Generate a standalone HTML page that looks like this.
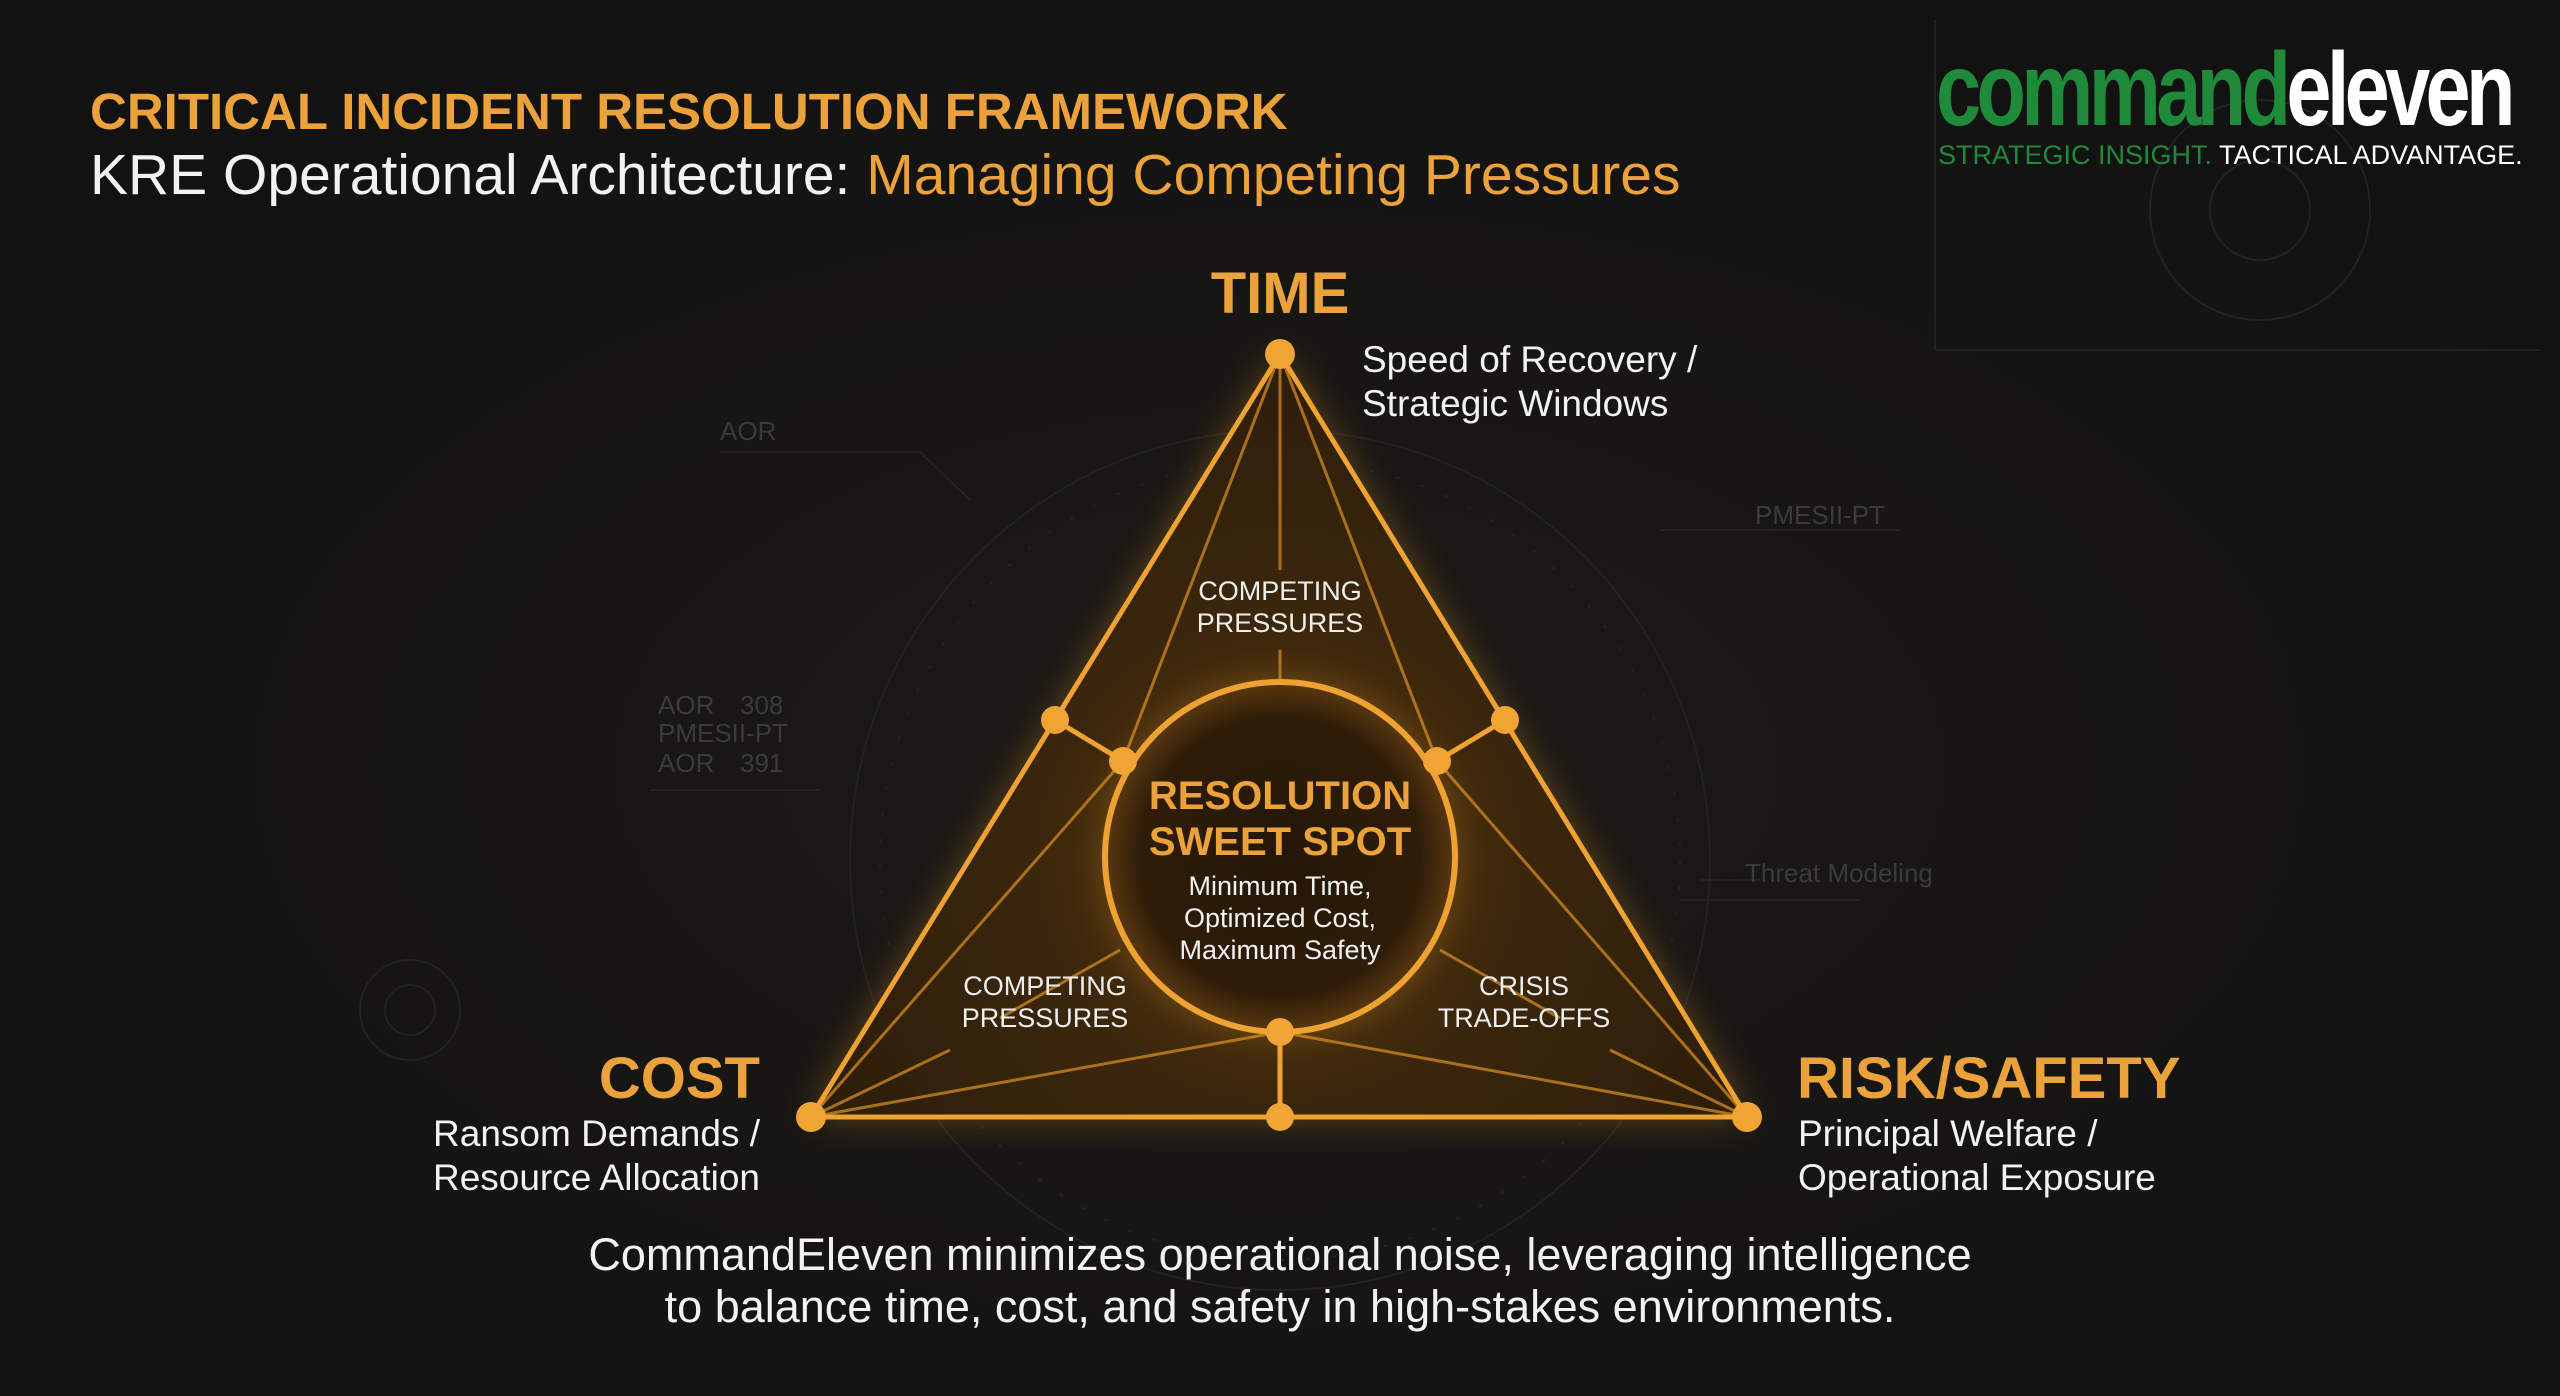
<!DOCTYPE html>
<html><head><meta charset="utf-8"><style>
html,body{margin:0;padding:0;background:#131313;}
body{width:2560px;height:1396px;overflow:hidden;position:relative;font-family:"Liberation Sans",sans-serif;}
.t{position:absolute;white-space:nowrap;}
</style></head><body>
<svg width="2560" height="1396" style="position:absolute;left:0;top:0">
<defs>
<radialGradient id="bg" cx="50%" cy="55%" r="60%"><stop offset="0" stop-color="#1c1a17"/><stop offset="1" stop-color="#121212"/></radialGradient>
<radialGradient id="tf" cx="1280" cy="860" r="560" gradientUnits="userSpaceOnUse"><stop offset="0" stop-color="#5a3a0e"/><stop offset="0.45" stop-color="#3a260c"/><stop offset="1" stop-color="#2a1c0a"/></radialGradient>
<radialGradient id="cf" cx="1280" cy="857" r="175" gradientUnits="userSpaceOnUse"><stop offset="0" stop-color="#241607"/><stop offset="0.8" stop-color="#2e1d08"/><stop offset="1" stop-color="#5a3810"/></radialGradient>
<filter id="gl" x="-20%" y="-20%" width="140%" height="140%"><feGaussianBlur stdDeviation="18"/></filter>
</defs>
<rect width="2560" height="1396" fill="url(#bg)"/>
<g stroke="#222" fill="none" stroke-width="2">
<circle cx="1280" cy="860" r="430"/><circle cx="1280" cy="860" r="400" stroke-dasharray="4 22"/>
<circle cx="2260" cy="210" r="110"/><circle cx="2260" cy="210" r="50"/>
<circle cx="410" cy="1010" r="50"/><circle cx="410" cy="1010" r="25"/>
<polyline points="720,452 920,452 970,500"/><polyline points="1660,530 1740,530 1900,530"/>
<polyline points="650,790 820,790"/><polyline points="1700,880 1760,880"/><polyline points="1680,900 1860,900"/>
<line x1="1935" y1="20" x2="1935" y2="350"/><line x1="1935" y1="350" x2="2540" y2="350"/>
</g>
<g font-family="Liberation Sans" font-size="26" fill="#3b3b3b">
<text x="720" y="440">AOR</text><text x="1755" y="524">PMESII-PT</text>
<text x="658" y="714">AOR</text><text x="740" y="714">308</text>
<text x="658" y="742">PMESII-PT</text>
<text x="658" y="772">AOR</text><text x="740" y="772">391</text>
<text x="1745" y="882">Threat Modeling</text>
</g>
<polygon points="1280,354 811,1117 1747,1117" fill="#e8941c" opacity="0.4" filter="url(#gl)"/>
<polygon points="1280,354 811,1117 1747,1117" fill="url(#tf)"/>
<g stroke="#c98420" stroke-width="3" fill="none" opacity="0.8">
<line x1="1280" y1="354" x2="1123" y2="761"/><line x1="1280" y1="354" x2="1437" y2="761"/>
<line x1="1280" y1="354" x2="1280" y2="570"/><line x1="1280" y1="650" x2="1280" y2="682"/>
<line x1="811" y1="1117" x2="1123" y2="761"/><line x1="811" y1="1117" x2="1280" y2="1032"/>
<line x1="1747" y1="1117" x2="1437" y2="761"/><line x1="1747" y1="1117" x2="1280" y2="1032"/>
<line x1="811" y1="1117" x2="950" y2="1050"/><line x1="1747" y1="1117" x2="1610" y2="1050"/>
<line x1="1120" y1="950" x2="1000" y2="1018"/><line x1="1440" y1="950" x2="1560" y2="1018"/>
</g>
<g stroke="#eea232" stroke-width="5" fill="none">
<polygon points="1280,354 811,1117 1747,1117" stroke-linejoin="round"/>
<line x1="1055" y1="720" x2="1123" y2="761"/><line x1="1505" y1="720" x2="1437" y2="761"/>
<line x1="1280" y1="1032" x2="1280" y2="1117"/>
</g>
<circle cx="1280" cy="857" r="175" fill="#e8941c" opacity="0.35" filter="url(#gl)"/>
<circle cx="1280" cy="857" r="175" fill="url(#cf)" stroke="#eea232" stroke-width="6"/>
<g fill="#f0a434">
<circle cx="1280" cy="354" r="15"/><circle cx="811" cy="1117" r="15"/><circle cx="1747" cy="1117" r="15"/>
<circle cx="1055" cy="720" r="14"/><circle cx="1505" cy="720" r="14"/><circle cx="1280" cy="1117" r="14"/>
<circle cx="1123" cy="761" r="14"/><circle cx="1437" cy="761" r="14"/><circle cx="1280" cy="1032" r="14"/>
</g>
</svg>
<div class="t" style="left:90px;top:82px;font-size:51px;font-weight:bold;color:#eca23a;">CRITICAL INCIDENT RESOLUTION FRAMEWORK</div>
<div class="t" style="left:90px;top:142px;font-size:57px;color:#f2f2f2;">KRE Operational Architecture: <span style="color:#eca23a">Managing Competing Pressures</span></div>
<div class="t" style="left:1936px;top:38px;font-size:104px;font-weight:bold;letter-spacing:-6px;transform:scaleX(0.78);transform-origin:left;color:#1f8a3a;line-height:1;">command<span style="color:#fff">eleven</span></div>
<div class="t" style="left:1938px;top:140px;font-size:27px;color:#1f8a3a;">STRATEGIC INSIGHT. <span style="color:#fff">TACTICAL ADVANTAGE.</span></div>
<div class="t" style="left:1280px;top:260px;transform:translateX(-50%);font-size:58px;font-weight:bold;color:#eca23a;">TIME</div>
<div class="t" style="left:1362px;top:338px;font-size:37px;color:#f2f2f2;line-height:44px;">Speed of Recovery /<br>Strategic Windows</div>
<div class="t" style="right:1800px;top:1045px;font-size:58px;font-weight:bold;color:#eca23a;">COST</div>
<div class="t" style="right:1800px;top:1112px;font-size:37px;color:#f2f2f2;line-height:44px;text-align:right;">Ransom Demands /<br>Resource Allocation</div>
<div class="t" style="left:1797px;top:1045px;font-size:58px;font-weight:bold;color:#eca23a;">RISK/SAFETY</div>
<div class="t" style="left:1798px;top:1112px;font-size:37px;color:#f2f2f2;line-height:44px;">Principal Welfare /<br>Operational Exposure</div>
<div class="t" style="left:1280px;top:575px;transform:translateX(-50%);font-size:27px;color:#eee;text-align:center;line-height:32px;">COMPETING<br>PRESSURES</div>
<div class="t" style="left:1045px;top:970px;transform:translateX(-50%);font-size:27px;color:#eee;text-align:center;line-height:32px;">COMPETING<br>PRESSURES</div>
<div class="t" style="left:1524px;top:970px;transform:translateX(-50%);font-size:27px;color:#eee;text-align:center;line-height:32px;">CRISIS<br>TRADE-OFFS</div>
<div class="t" style="left:1280px;top:773px;transform:translateX(-50%);font-size:40px;font-weight:bold;color:#eca23a;text-align:center;line-height:46px;">RESOLUTION<br>SWEET SPOT</div>
<div class="t" style="left:1280px;top:870px;transform:translateX(-50%);font-size:27px;color:#f2f2f2;text-align:center;line-height:32px;">Minimum Time,<br>Optimized Cost,<br>Maximum Safety</div>
<div class="t" style="left:1280px;top:1229px;transform:translateX(-50%);font-size:45px;color:#f2f2f2;text-align:center;line-height:52px;">CommandEleven minimizes operational noise, leveraging intelligence<br>to balance time, cost, and safety in high-stakes environments.</div>
</body></html>
